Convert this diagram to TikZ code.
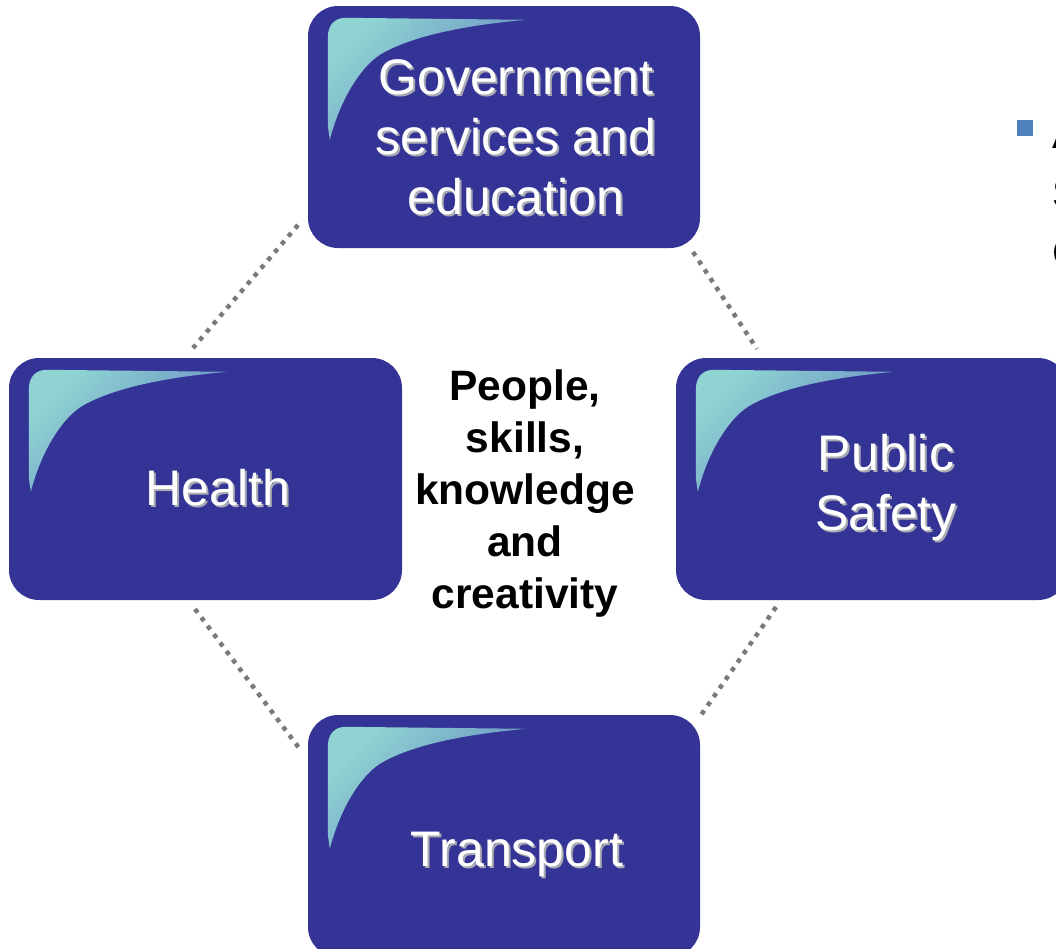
\documentclass[tikz,border=0pt]{standalone}
\usepackage{fontspec}
\setmainfont{Liberation Sans}
\definecolor{boxblue}{RGB}{52,52,151}
\definecolor{hiteal}{RGB}{143,212,210}
\definecolor{hiblue}{RGB}{96,128,192}
\definecolor{dotgray}{RGB}{122,122,122}
\definecolor{bulletblue}{RGB}{79,129,189}
\definecolor{shadowgray}{RGB}{170,170,178}
\newcommand\shtxt[1]{\makebox[0pt][l]{\kern2pt\raisebox{-2pt}{\textcolor{shadowgray}{#1}}}#1}
\tikzset{
  bluebox/.style={fill=boxblue, draw=none, rounded corners=30pt, minimum width=392pt, minimum height=242pt, inner sep=0pt},
  boxtext/.style={text=white, font=\fontsize{50}{60}\selectfont, inner sep=0pt, anchor=base},
  centertext/.style={text=black, font=\bfseries\fontsize{42.5}{52}\selectfont, inner sep=0pt, anchor=base},
  dotline/.style={draw=dotgray, line width=4.5pt, dash pattern=on 4.5pt off 6pt},
  highlight/.style={top color=hiteal, bottom color=hiblue, shading angle=45, draw=none},
}
\begin{document}
\begin{tikzpicture}[x=1pt, y=-1pt]
\useasboundingbox (0,0) rectangle (1056,948);
\clip (0,0) rectangle (1056,948);
% connectors
\coordinate (c1a) at (298,225); \coordinate (c1b) at (193,348);
\coordinate (c2a) at (693,252); \coordinate (c2b) at (757,349);
\coordinate (c3a) at (195,609); \coordinate (c3b) at (299,748);
\coordinate (c4a) at (776,607); \coordinate (c4b) at (699,718);
\draw[dotline] (c1a) -- (c1b);
\draw[dotline] (c2a) -- (c2b);
\draw[dotline] (c3a) -- (c3b);
\draw[dotline] (c4a) -- (c4b);
% boxes
\node[bluebox] (gov) at (504,127) {};
\node[bluebox, minimum width=393pt] (health) at (205.5,479) {};
\node[bluebox] (safety) at (872,479) {};
\node[bluebox] (transport) at (504,836) {};
\foreach \b in {gov,health,safety,transport}{
  \begin{scope}[shift={(\b.north west)}]
    \shade[highlight] (22,134) -- (20,120) -- (20,32) .. controls (20,20) and (26,12) .. (38,12) -- (219,14)
      .. controls (150,20) and (100,32) .. (72,49)
      .. controls (52,62) and (32,95) .. (22,134) -- cycle;
  \end{scope}
}
% texts
\node[boxtext] (govtext) at (516,94) {\begin{tabular}[t]{@{}c@{}}\shtxt{Government}\\\shtxt{services and}\\\shtxt{education}\end{tabular}};
\node[boxtext] (healthtext) at (218,505) {\shtxt{Health}};
\node[boxtext] (safetytext) at (886,470) {\begin{tabular}[t]{@{}c@{}}\shtxt{Public}\\\shtxt{Safety}\end{tabular}};
\node[boxtext] (transporttext) at (517,866) {\shtxt{Transport}};
\node[centertext] (core) at (525,400) {\begin{tabular}[t]{@{}c@{}}People,\\skills,\\knowledge\\and\\creativity\end{tabular}};
% clipped bullet text at right edge
\node[fill=bulletblue, minimum size=16pt, inner sep=0pt, anchor=north west] (bullet) at (1017,120) {};
\node[font=\fontsize{40}{59}\selectfont, anchor=base west, inner sep=0pt] (bullettext) at (1052,148) {\begin{tabular}[t]{@{}l@{}}A\\S\\C\end{tabular}};
\end{tikzpicture}
\end{document}
